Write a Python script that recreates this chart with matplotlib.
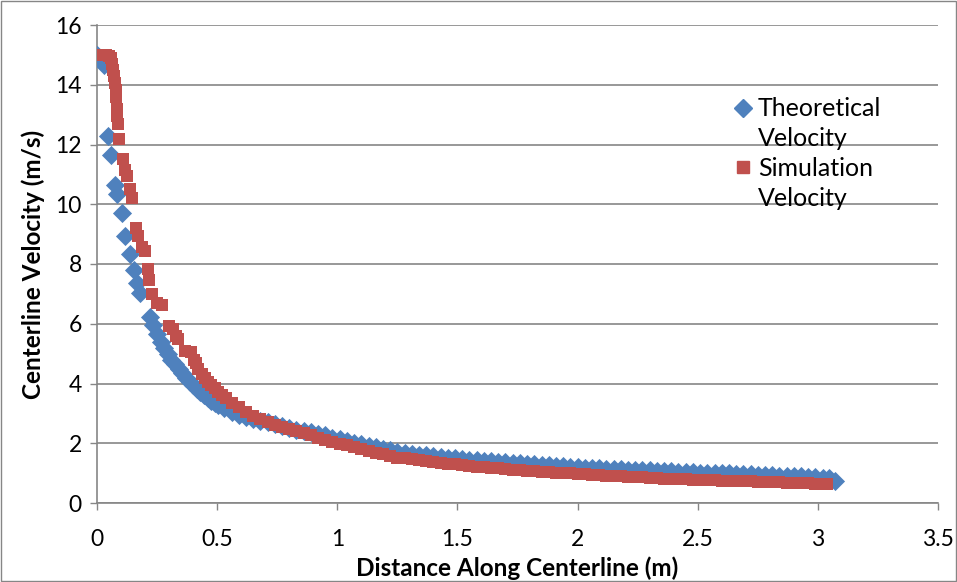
import matplotlib
matplotlib.use("Agg")
import matplotlib.pyplot as plt
from matplotlib.lines import Line2D
from matplotlib.patches import Rectangle

plt.rcParams["font.family"] = ["Lato", "DejaVu Sans"]

# ---- data ----
theo_x = [0.000, 0.030, 0.046, 0.058, 0.075, 0.083, 0.104, 0.118, 0.137, 0.152,
          0.166, 0.178, 0.220, 0.234, 0.250, 0.265, 0.280, 0.295, 0.310, 0.325,
          0.340, 0.355, 0.370, 0.385, 0.400, 0.415, 0.430, 0.445, 0.460, 0.475,
          0.490, 0.505, 0.530, 0.560, 0.590, 0.620, 0.650, 0.680, 0.710, 0.740,
          0.770, 0.800, 0.830, 0.860, 0.890, 0.920, 0.950, 0.980, 1.010, 1.040,
          1.070, 1.100, 1.130, 1.160, 1.190, 1.220, 1.250, 1.280, 1.310, 1.340,
          1.370, 1.400, 1.430, 1.460, 1.490, 1.520, 1.550, 1.580, 1.610, 1.640,
          1.670, 1.700, 1.730, 1.760, 1.790, 1.820, 1.850, 1.880, 1.910, 1.940,
          1.970, 2.000, 2.030, 2.060, 2.090, 2.120, 2.150, 2.180, 2.210, 2.240,
          2.270, 2.300, 2.330, 2.360, 2.390, 2.420, 2.450, 2.480, 2.510, 2.540,
          2.570, 2.600, 2.630, 2.660, 2.690, 2.720, 2.750, 2.780, 2.810, 2.840,
          2.870, 2.900, 2.930, 2.960, 2.990, 3.020, 3.045, 3.070]
theo_v = [15.00, 14.65, 12.30, 11.65, 10.65, 10.35, 9.70, 8.95, 8.35, 7.80,
          7.38, 7.02, 6.22, 5.95, 5.65, 5.40, 5.18, 4.98, 4.80, 4.64,
          4.48, 4.34, 4.20, 4.06, 3.94, 3.83, 3.72, 3.62, 3.52, 3.43,
          3.36, 3.29, 3.18, 3.06, 2.96, 2.88, 2.81, 2.75, 2.70, 2.64,
          2.58, 2.52, 2.46, 2.41, 2.36, 2.31, 2.26, 2.19, 2.13, 2.07,
          2.02, 1.97, 1.92, 1.87, 1.82, 1.77, 1.72, 1.68, 1.65, 1.62,
          1.59, 1.56, 1.53, 1.51, 1.49, 1.47, 1.45, 1.43, 1.41, 1.39,
          1.37, 1.36, 1.34, 1.33, 1.31, 1.30, 1.28, 1.27, 1.25, 1.23,
          1.21, 1.19, 1.18, 1.17, 1.16, 1.15, 1.14, 1.13, 1.12, 1.11,
          1.10, 1.09, 1.08, 1.07, 1.06, 1.05, 1.04, 1.03, 1.02, 1.01,
          1.01, 1.00, 0.99, 0.98, 0.97, 0.96, 0.95, 0.94, 0.93, 0.92,
          0.91, 0.90, 0.89, 0.88, 0.86, 0.85, 0.83, 0.74]

sim_x = [0.000, 0.012, 0.024, 0.036, 0.048, 0.058, 0.064, 0.068, 0.071, 0.074,
         0.077, 0.080, 0.083, 0.085, 0.087, 0.092, 0.110, 0.118, 0.125, 0.138,
         0.146, 0.164, 0.170, 0.186, 0.198, 0.214, 0.218, 0.229, 0.250, 0.272,
         0.300, 0.315, 0.330, 0.336, 0.368, 0.390, 0.402, 0.412, 0.422, 0.436,
         0.448, 0.462, 0.476, 0.490, 0.505, 0.520, 0.535, 0.560, 0.590, 0.620,
         0.650, 0.680, 0.710, 0.740, 0.770, 0.800, 0.830, 0.860, 0.890, 0.920,
         0.950, 0.980, 1.010, 1.040, 1.070, 1.100, 1.130, 1.160, 1.190, 1.220,
         1.250, 1.280, 1.310, 1.340, 1.370, 1.400, 1.430, 1.460, 1.490, 1.520,
         1.550, 1.580, 1.610, 1.640, 1.670, 1.700, 1.730, 1.760, 1.790, 1.820,
         1.850, 1.880, 1.910, 1.940, 1.970, 2.000, 2.030, 2.060, 2.090, 2.120,
         2.150, 2.180, 2.210, 2.240, 2.270, 2.300, 2.330, 2.360, 2.390, 2.420,
         2.450, 2.480, 2.510, 2.540, 2.570, 2.600, 2.630, 2.660, 2.690, 2.720,
         2.750, 2.780, 2.810, 2.840, 2.870, 2.900, 2.930, 2.960, 2.990, 3.020,
         3.040]
sim_v = [15.00, 15.00, 15.00, 14.98, 14.95, 14.88, 14.70, 14.50, 14.28, 14.05,
         13.82, 13.60, 13.20, 12.95, 12.70, 12.20, 11.50, 11.15, 10.95, 10.50,
         10.20, 9.20, 8.95, 8.58, 8.45, 7.82, 7.45, 6.98, 6.70, 6.62,
         5.92, 5.82, 5.60, 5.50, 5.10, 5.05, 4.80, 4.68, 4.50, 4.32,
         4.18, 4.06, 3.95, 3.84, 3.72, 3.62, 3.52, 3.36, 3.22, 3.06,
         2.92, 2.80, 2.70, 2.62, 2.55, 2.47, 2.40, 2.33, 2.26, 2.19,
         2.12, 2.05, 1.99, 1.93, 1.87, 1.81, 1.75, 1.69, 1.63, 1.57,
         1.52, 1.49, 1.46, 1.43, 1.40, 1.37, 1.34, 1.31, 1.29, 1.27,
         1.24, 1.22, 1.20, 1.18, 1.16, 1.14, 1.12, 1.10, 1.08, 1.07,
         1.05, 1.04, 1.02, 1.01, 1.00, 0.98, 0.96, 0.95, 0.93, 0.92,
         0.91, 0.89, 0.88, 0.87, 0.86, 0.85, 0.84, 0.82, 0.81, 0.80,
         0.79, 0.78, 0.77, 0.77, 0.76, 0.75, 0.74, 0.73, 0.72, 0.72,
         0.71, 0.70, 0.69, 0.69, 0.68, 0.67, 0.67, 0.66, 0.65, 0.65,
         0.64]

x_ticks = [0, 0.5, 1, 1.5, 2, 2.5, 3, 3.5]
x_tick_labels = ["0", "0.5", "1", "1.5", "2", "2.5", "3", "3.5"]
y_ticks = [0, 2, 4, 6, 8, 10, 12, 14, 16]

BLUE = "#4F81BD"
RED = "#C0504D"
GRID = "#868686"

fig = plt.figure(figsize=(9.57, 5.82), dpi=100)
ax = fig.add_axes([97 / 957, 1 - 503 / 582, 841 / 957, 478 / 582])

ax.scatter(theo_x, theo_v, marker="D", s=95, color=BLUE, linewidths=0, zorder=3)
ax.scatter(sim_x, sim_v, marker="s", s=80, color=RED, linewidths=0, zorder=4)

ax.set_xlim(0, 3.5)
ax.set_ylim(0, 16)
ax.set_xticks(x_ticks)
ax.set_xticklabels(x_tick_labels)
ax.set_yticks(y_ticks)
ax.tick_params(axis="both", direction="out", length=5, width=1, color=GRID,
               labelsize=16.5)
ax.tick_params(axis="x", pad=14)
ax.tick_params(axis="y", pad=6)
ax.yaxis.grid(True, color=GRID, linewidth=1.2)
ax.set_axisbelow(True)
for side in ("top", "right"):
    ax.spines[side].set_visible(False)
for side in ("left", "bottom"):
    ax.spines[side].set_color(GRID)
    ax.spines[side].set_linewidth(1.2)

ax.set_xlabel("Distance Along Centerline (m)", fontsize=17.5, fontweight="bold", labelpad=4)
ax.set_ylabel("Centerline Velocity (m/s)", fontsize=17.5, fontweight="bold", labelpad=7)

# legend: marker next to first line of each two-line label
blank = Line2D([], [], linestyle="none")
handles = [Line2D([], [], marker="D", color=BLUE, linestyle="none", markersize=9.5),
           blank,
           Line2D([], [], marker="s", color=RED, linestyle="none", markersize=8),
           blank]
labels = ["Theoretical", "Velocity", "Simulation", "Velocity"]
ax.legend(handles, labels, loc="upper left", bbox_to_anchor=(0.7425, 0.875),
          frameon=False, fontsize=18, borderpad=0, handlelength=0.75,
          handletextpad=0.2, labelspacing=0.27)

fig.patches.append(Rectangle((0.001, 0.001), 0.998, 0.998, transform=fig.transFigure,
                             fill=False, edgecolor=GRID, linewidth=1))

fig.savefig("out.png", dpi=100)
